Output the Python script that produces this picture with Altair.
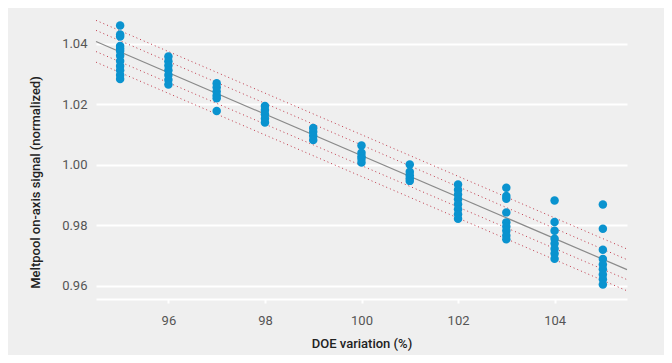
import altair as alt
import pandas as pd

# DOE variation levels (%) and measured normalized signals
doe_levels = [95, 96, 97, 98, 99, 100, 101, 102, 103, 104, 105]
signals = [
    [1.0460, 1.0430, 1.0424, 1.0392, 1.0383, 1.0376, 1.0360, 1.0343, 1.0326, 1.0312, 1.0297, 1.0283],
    [1.0358, 1.0342, 1.0328, 1.0312, 1.0297, 1.0281, 1.0265],
    [1.0269, 1.0256, 1.0242, 1.0229, 1.0220, 1.0178],
    [1.0194, 1.0181, 1.0167, 1.0153, 1.0140],
    [1.0122, 1.0109, 1.0096, 1.0082],
    [1.0064, 1.0040, 1.0028, 1.0020, 1.0008],
    [1.0001, 0.9977, 0.9966, 0.9956, 0.9947],
    [0.9935, 0.9918, 0.9902, 0.9886, 0.9870, 0.9853, 0.9837, 0.9822],
    [0.9924, 0.9897, 0.9888, 0.9843, 0.9810, 0.9796, 0.9782, 0.9767, 0.9754],
    [0.9882, 0.9811, 0.9782, 0.9756, 0.9740, 0.9723, 0.9707, 0.9690],
    [0.9869, 0.9789, 0.9720, 0.9689, 0.9671, 0.9655, 0.9638, 0.9622, 0.9605],
]

# Fit line and interval bands (endpoints)
line_x = [94.5, 105.5]
fit_y = [1.0407, 0.9654]
upper2_y = [1.0477, 0.9722]
upper1_y = [1.0444, 0.9687]
lower1_y = [1.0374, 0.9621]
lower2_y = [1.0339, 0.9584]

x_ticks = [96, 98, 100, 102, 104]
y_ticks = [0.96, 0.98, 1.00, 1.02, 1.04]

pts = pd.DataFrame(
    [{"doe": d, "signal": v} for d, vals in zip(doe_levels, signals) for v in vals]
)
fit = pd.DataFrame({"doe": line_x, "signal": fit_y})
bands = pd.DataFrame(
    [
        {"doe": x, "signal": y, "band": name}
        for name, ys in [("u2", upper2_y), ("u1", upper1_y), ("l1", lower1_y), ("l2", lower2_y)]
        for x, y in zip(line_x, ys)
    ]
)

xscale = alt.Scale(domain=[94.5, 105.5], nice=False, zero=False)
yscale = alt.Scale(domain=[0.9557, 1.0498], nice=False, zero=False)

xaxis = alt.Axis(
    title="DOE variation (%)",
    values=x_ticks,
    grid=False,
    domainColor="white",
    domainWidth=2,
    tickColor="white",
    tickWidth=2,
    tickSize=4,
    labelPadding=11,
    titlePadding=10,
)
yaxis = alt.Axis(
    title="Meltpool on-axis signal (normalized)",
    values=y_ticks,
    format=".2f",
    grid=True,
    gridColor="white",
    gridWidth=2,
    domain=False,
    ticks=False,
    labelPadding=9,
    titleX=-61,
    titleY=168,
    titleAngle=-90,
    titleAlign="center",
    titleBaseline="middle",
)

band_layer = alt.Chart(bands).mark_line(
    color="#c0394a", strokeWidth=1, strokeDash=[1, 3]
).encode(
    x=alt.X("doe:Q", scale=xscale, axis=xaxis),
    y=alt.Y("signal:Q", scale=yscale, axis=yaxis),
    detail="band:N",
)

fit_layer = alt.Chart(fit).mark_line(color="#8a8a8a", strokeWidth=1.2).encode(
    x=alt.X("doe:Q", scale=xscale),
    y=alt.Y("signal:Q", scale=yscale),
)

pt_layer = alt.Chart(pts).mark_circle(size=72, color="#0a93cf", opacity=1).encode(
    x=alt.X("doe:Q", scale=xscale),
    y=alt.Y("signal:Q", scale=yscale),
)

chart = (
    alt.layer(band_layer, fit_layer, pt_layer)
    .properties(
        width=531,
        height=285,
        autosize=alt.AutoSizeParams(type="none"),
        padding={"left": 88, "top": 6, "right": 37, "bottom": 56},
        background="#efefef",
    )
    .configure_view(stroke=None, fill="#efefef")
    .configure_axis(
        labelFont="Roboto",
        labelFontSize=13,
        labelColor="#555555",
        titleFont="Roboto",
        titleFontSize=13,
        titleFontWeight=500,
        titleColor="#222222",
    )
)

chart.save("out.html", embed_options={"renderer": "svg", "actions": False})
